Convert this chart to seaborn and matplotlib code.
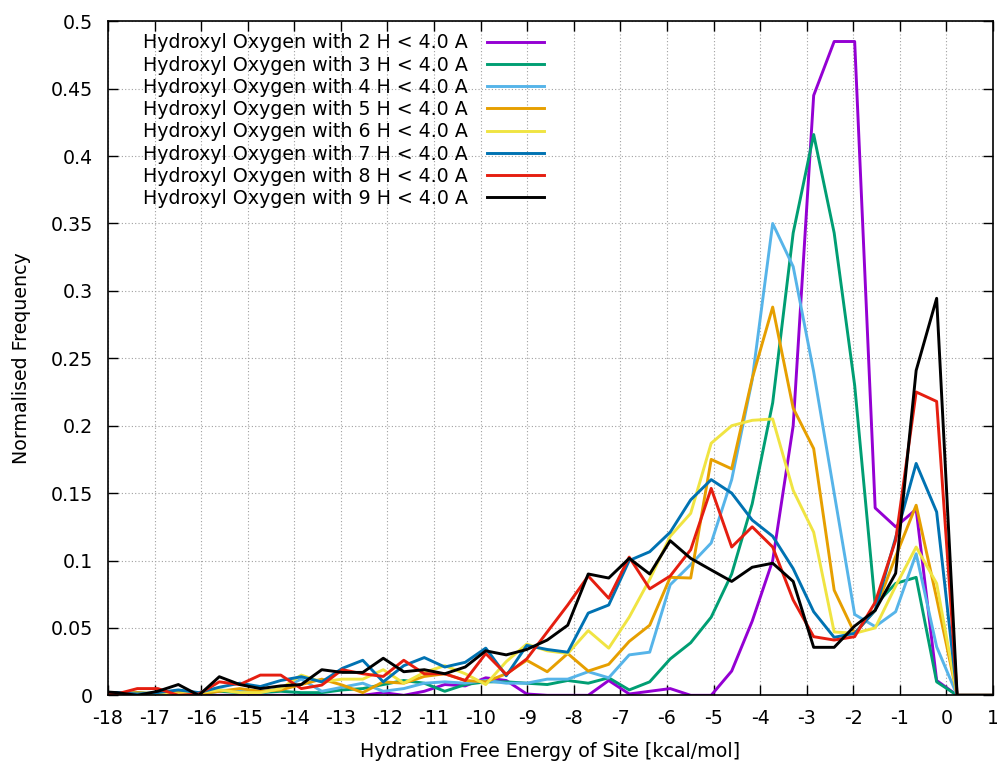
import matplotlib
matplotlib.use("Agg")
import matplotlib.pyplot as plt
import numpy as np
import pandas as pd
import seaborn as sns

# Bin centres of the hydration free energy histogram (kcal/mol)
energy = [-18.25, -17.81, -17.37, -16.93, -16.49, -16.05, -15.61, -15.17, -14.73,
          -14.29, -13.85, -13.41, -12.97, -12.53, -12.09, -11.65, -11.21, -10.77,
          -10.33, -9.89, -9.45, -9.01, -8.57, -8.13, -7.69, -7.25, -6.81, -6.37,
          -5.93, -5.49, -5.05, -4.61, -4.17, -3.73, -3.29, -2.85, -2.41, -1.97,
          -1.53, -1.09, -0.65, -0.21, 0.23, 0.67, 1.11]

h2 = [0, 0, 0, 0, 0, 0, 0, 0, 0, 0, 0, 0, 0, 0, 0.002,
      0, 0.003, 0.008, 0.007, 0.013, 0.011, 0.001, 0, 0, 0,
      0.011, 0.001, 0.003, 0.005, 0, 0, 0.018, 0.055, 0.100, 0.200,
      0.445, 0.485, 0.485, 0.139, 0.125, 0.138, 0.011, 0, 0, 0]
h3 = [0.001, 0.001, 0.002, 0.001, 0.002, 0.001, 0.003, 0.002, 0.002, 0.003, 0.002, 0.002, 0.004, 0.005, 0.008,
      0.011, 0.009, 0.003, 0.008, 0.010, 0.010, 0.009, 0.008, 0.011, 0.009,
      0.013, 0.004, 0.010, 0.027, 0.039, 0.058, 0.090, 0.142, 0.217, 0.343,
      0.416, 0.343, 0.230, 0.067, 0.083, 0.0875, 0.010, 0, 0, 0]
h4 = [0.001, 0.002, 0.001, 0.002, 0.003, 0.001, 0.004, 0.003, 0.002, 0.005, 0.012, 0.003, 0.006, 0.009, 0.003,
      0.005, 0.009, 0.010, 0.009, 0.011, 0.009, 0.009, 0.012, 0.012, 0.0175,
      0.013, 0.030, 0.032, 0.082, 0.097, 0.113, 0.160, 0.234, 0.350, 0.318,
      0.240, 0.150, 0.060, 0.051, 0.062, 0.105, 0.036, 0, 0, 0]
h5 = [0.002, 0.001, 0.002, 0.001, 0.003, 0.001, 0.003, 0.005, 0.003, 0.004, 0.008, 0.012, 0.0076, 0.002, 0.010,
      0.009, 0.014, 0.016, 0.011, 0.010, 0.016, 0.026, 0.0175, 0.031, 0.018,
      0.023, 0.040, 0.052, 0.0875, 0.087, 0.175, 0.168, 0.235, 0.288, 0.213,
      0.183, 0.078, 0.046, 0.063, 0.103, 0.141, 0.072, 0, 0, 0]
h6 = [0.001, 0.001, 0.001, 0.002, 0.001, 0.002, 0.004, 0.002, 0.002, 0.005, 0.015, 0.010, 0.012, 0.012, 0.019,
      0.009, 0.017, 0.022, 0.016, 0.008, 0.025, 0.038, 0.033, 0.031, 0.048,
      0.035, 0.058, 0.086, 0.118, 0.135, 0.187, 0.200, 0.204, 0.205, 0.152,
      0.121, 0.047, 0.046, 0.050, 0.081, 0.110, 0.083, 0, 0, 0]
h7 = [0.002, 0.002, 0.001, 0.002, 0.004, 0.002, 0.006, 0.009, 0.0065, 0.011, 0.0138, 0.010, 0.020, 0.026, 0.010,
      0.022, 0.028, 0.021, 0.0245, 0.035, 0.0145, 0.037, 0.034, 0.032, 0.061,
      0.067, 0.100, 0.1065, 0.121, 0.145, 0.160, 0.150, 0.130, 0.118, 0.094,
      0.062, 0.043, 0.046, 0.063, 0.117, 0.172, 0.136, 0, 0, 0]
h8 = [0.002, 0.001, 0.005, 0.005, 0.0, 0.001, 0.010, 0.008, 0.015, 0.015, 0.005, 0.0076, 0.019, 0.016, 0.014,
      0.026, 0.016, 0.016, 0.011, 0.031, 0.0155, 0.027, 0.047, 0.067, 0.0885,
      0.072, 0.1025, 0.079, 0.0885, 0.108, 0.1535, 0.110, 0.125, 0.110, 0.0707,
      0.0435, 0.041, 0.0435, 0.069, 0.115, 0.225, 0.218, 0, 0, 0]
h9 = [0.003, 0.002, 0.0, 0.003, 0.008, 0.0, 0.0138, 0.008, 0.005, 0.007, 0.008, 0.019, 0.017, 0.017, 0.0275,
      0.0175, 0.019, 0.016, 0.021, 0.033, 0.030, 0.034, 0.041, 0.052, 0.090,
      0.087, 0.1016, 0.090, 0.1147, 0.1016, 0.093, 0.0845, 0.095, 0.098, 0.0845,
      0.0356, 0.0356, 0.0514, 0.063, 0.0905, 0.241, 0.2945, 0, 0, 0]

series_labels = [f"Hydroxyl Oxygen with {n} H < 4.0 A" for n in range(2, 10)]
series_values = [h2, h3, h4, h5, h6, h7, h8, h9]
colors = ["#9400d3", "#009e73", "#56b4e9", "#e69f00",
          "#f0e442", "#0072b2", "#e51e10", "#000000"]

x_ticks = list(range(-18, 2))
y_ticks = [0, 0.05, 0.1, 0.15, 0.2, 0.25, 0.3, 0.35, 0.4, 0.45, 0.5]
y_tick_labels = ["0", "0.05", "0.1", "0.15", "0.2", "0.25", "0.3", "0.35", "0.4", "0.45", "0.5"]

df = pd.DataFrame({
    "energy": np.tile(energy, len(series_labels)),
    "freq": np.concatenate(series_values),
    "series": np.repeat(series_labels, len(energy)),
})

plt.rcParams["font.family"] = ["DejaVu Sans"]
plt.rcParams["font.size"] = 13.7

fig = plt.figure(figsize=(9.97, 7.63), dpi=100)
ax = fig.add_axes([0.1083, 0.0887, 0.8877, 0.8834])

sns.lineplot(data=df, x="energy", y="freq", hue="series", hue_order=series_labels,
             palette=colors, linewidth=2.1, sort=False, estimator=None, ax=ax, legend=True)

ax.set_xlim(-18, 1)
ax.set_ylim(0, 0.5)
ax.set_xticks(x_ticks)
ax.set_xticklabels([str(t) for t in x_ticks])
ax.set_yticks(y_ticks)
ax.set_yticklabels(y_tick_labels)
ax.grid(True, color="#a0a0a0", linestyle=(0, (1, 2)), linewidth=0.8)
ax.set_axisbelow(True)
ax.tick_params(axis="both", direction="in", length=7, width=1, top=True, right=True,
               labelsize=13.7, color="black")
ax.tick_params(axis="y", pad=11)
ax.tick_params(axis="x", pad=10)
for s in ax.spines.values():
    s.set_color("black")
    s.set_linewidth(1.2)

ax.set_xlabel("Hydration Free Energy of Site [kcal/mol]", fontsize=13.7, labelpad=10)
ax.set_ylabel("Normalised Frequency", fontsize=13.7, labelpad=14)

handles, labels = ax.get_legend_handles_labels()
ax.legend(handles, labels, loc="upper left", bbox_to_anchor=(0.0395, 0.982),
          frameon=False, markerfirst=False, handlelength=3.0, handletextpad=1.0,
          labelspacing=0.17, borderpad=0, borderaxespad=0, fontsize=13.7)

fig.savefig("out.png", dpi=100)
